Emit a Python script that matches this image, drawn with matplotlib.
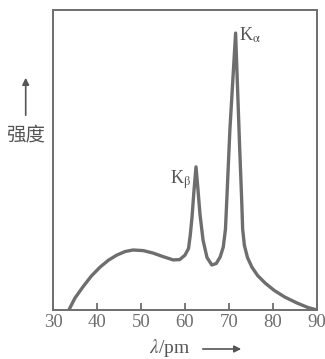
import matplotlib
matplotlib.use("Agg")
import matplotlib.pyplot as plt

plt.rcParams['font.family'] = ['Liberation Serif', 'Noto Sans CJK SC', 'DejaVu Sans']
plt.rcParams['mathtext.fontset'] = 'stix'

# 波长 (pm) 与强度 (相对值)
wavelength = [33.6, 35.0, 36.8, 38.7, 40.7, 42.6, 44.5, 46.4, 48.2, 50.5, 52.7,
              55.0, 57.3, 58.8, 60.0, 60.8, 61.2, 61.6, 62.0, 62.5, 62.9,
              63.4, 64.1, 65.0, 66.1, 67.1, 68.0, 68.7, 69.2, 69.6, 70.2,
              71.5, 72.4, 72.9, 73.1, 73.5, 74.2, 75.2, 76.5, 78.2, 80.3,
              82.7, 85.5, 88.0, 90.0]
intensity = [0.0, 4.0, 7.7, 11.3, 14.3, 16.6, 18.3, 19.5, 20.0, 19.8, 19.0,
             17.8, 16.7, 16.8, 18.3, 20.5, 25.0, 31.0, 39.0, 47.7, 41.0,
             32.0, 23.3, 17.5, 15.0, 15.5, 17.7, 21.0, 27.0, 40.0, 60.0,
             92.3, 55.0, 36.0, 27.0, 21.5, 17.5, 14.3, 11.5, 9.0, 6.5,
             4.3, 2.3, 0.8, 0.0]
xticks = [30, 40, 50, 60, 70, 80, 90]

gray = '#6e6e6e'
tc = '#555555'
fig = plt.figure(figsize=(3.25, 3.59), dpi=100)
ax = fig.add_axes([53/325, 49/359, 264/325, 300/359])

ax.plot(wavelength, intensity, color=gray, linewidth=2.4, solid_joinstyle='round')
ax.set_xlim(30, 90)
ax.set_ylim(0, 100)
ax.set_xticks(xticks)
ax.set_yticks([])
ax.tick_params(axis='x', direction='in', length=5, width=1.3, colors=gray,
               labelsize=13.5, pad=3)
for s in ax.spines.values():
    s.set_color(gray)
    s.set_linewidth(1.4)

# 峰标记
ax.text(72.3, 91.5, r'K$_\mathrm{\alpha}$', fontsize=13, color=tc, ha='left', va='center')
ax.text(56.5, 43.5, r'K$_\mathrm{\beta}$', fontsize=13, color=tc, ha='left', va='center')

# 坐标轴标签
fig.text(170/325, 1 - 348/359, r'$\lambda$/pm', fontsize=14, color=tc,
         ha='center', va='center')
ax.annotate('', xy=(244/325, 1 - 349/359), xytext=(200/325, 1 - 349/359),
            xycoords='figure fraction',
            arrowprops=dict(arrowstyle='-|>', color=tc, lw=1.2,
                            mutation_scale=10))
fig.text(26/325, 1 - 135/359, '强度', fontsize=14, color=tc,
         family='Noto Sans CJK SC', ha='center', va='center')
ax.annotate('', xy=(25.7/325, 1 - 75/359), xytext=(25.7/325, 1 - 118/359),
            xycoords='figure fraction',
            arrowprops=dict(arrowstyle='-|>', color=tc, lw=1.2,
                            mutation_scale=10))

fig.savefig('out.png', dpi=100)
